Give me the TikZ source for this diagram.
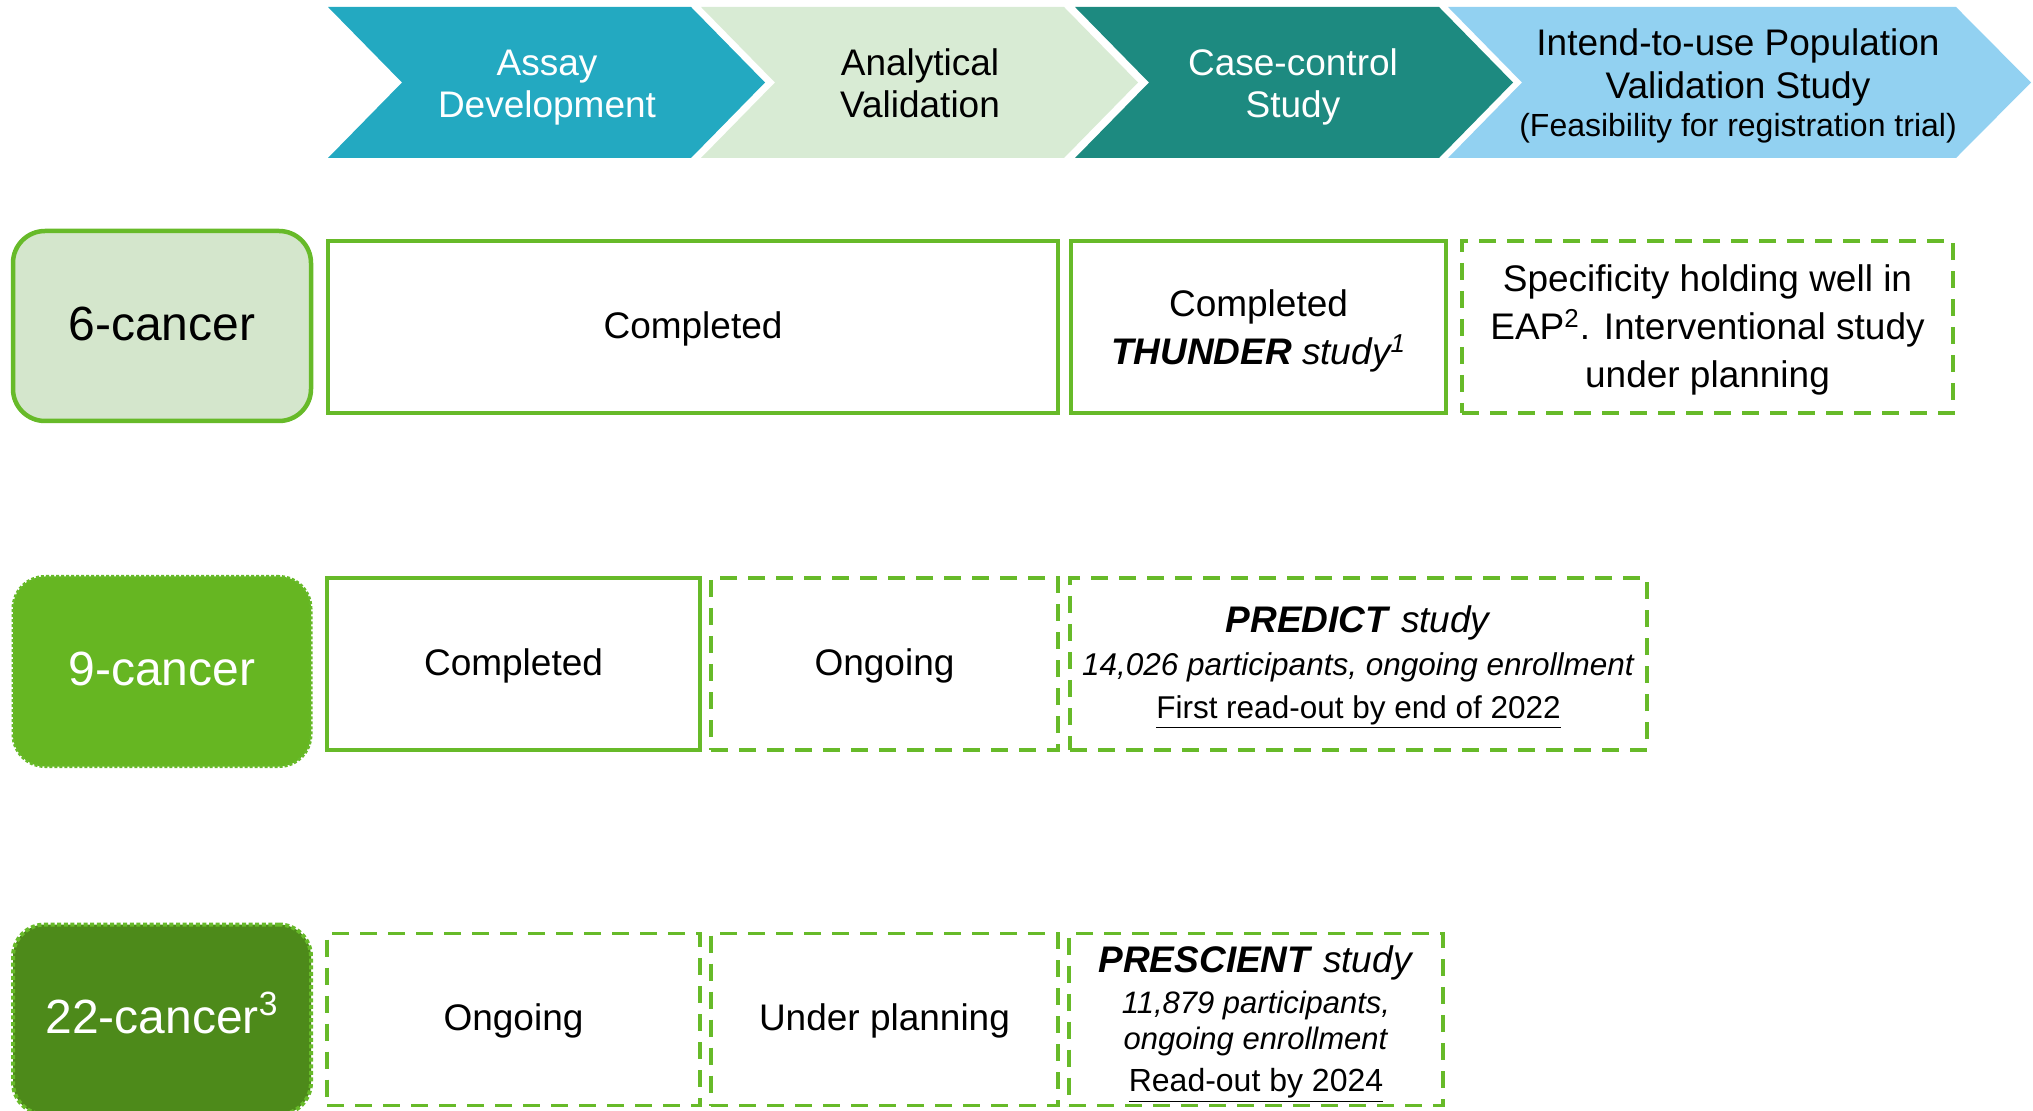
\documentclass[tikz,border=0pt]{standalone}
\usepackage{fontspec}
\setmainfont{Liberation Sans}

\definecolor{assayblue}{HTML}{23A9C1}
\definecolor{valgreen}{HTML}{D8EBD4}
\definecolor{caseteal}{HTML}{1D8A80}
\definecolor{popblue}{HTML}{92D1F1}
\definecolor{cellgreen}{HTML}{67BA29}
\definecolor{sixfill}{HTML}{D4E6CC}
\definecolor{ninefill}{HTML}{66B622}
\definecolor{twentytwofill}{HTML}{4D8A1A}

\begin{document}
\begin{tikzpicture}[
    x=0.5pt, y=-0.5pt,
    stage/.style={anchor=base, align=center, inner sep=0pt, font=\fontsize{18.5}{21}\selectfont},
    cell/.style={draw=cellgreen, line width=1.75pt, inner sep=0pt, minimum height=86pt,
        align=center, font=\fontsize{18.5}{23}\selectfont},
    oneline/.style={text height=14.8pt, text depth=3.7pt},
    planned/.style={cell, dash pattern=on 8.5pt off 5.5pt},
    panel/.style={rounded corners=16pt, inner sep=0pt, minimum width=149pt, minimum height=95pt,
        text height=19.2pt, text depth=4.8pt, font=\fontsize{24}{28}\selectfont}
]
\useasboundingbox (0,0) rectangle (2033,1111);

% stage chevrons
\fill[assayblue] (328,7) -- (691,7) -- (765,82.5) -- (691,158) -- (328,158) -- (402,82.5) -- cycle;
\fill[valgreen] (701,7) -- (1064,7) -- (1138,82.5) -- (1064,158) -- (701,158) -- (775,82.5) -- cycle;
\fill[caseteal] (1075,7) -- (1439,7) -- (1513,82.5) -- (1439,158) -- (1075,158) -- (1149,82.5) -- cycle;
\fill[popblue] (1448,7) -- (1956,7) -- (2031,82.5) -- (1956,158) -- (1448,158) -- (1522,82.5) -- cycle;

% (anchor=base sits on the last line)
\node[stage, text=white] (assay) at (547,117.5) {Assay\\Development};
\node[stage] (analytical) at (920,117.5) {Analytical\\Validation};
\node[stage, text=white] (casecontrol) at (1293,117.5) {Case-control\\Study};
\node[stage, font=\fontsize{18.5}{21.6}\selectfont] (population) at (1738,137)
    {Intend-to-use Population\\Validation Study\\[-2.6pt]{\fontsize{16}{19}\selectfont (Feasibility for registration trial)}};

% panels on the left
\node[panel, fill=sixfill, draw=cellgreen, line width=2.25pt] (six) at (162,326) {6-cancer};
\node[panel, fill=ninefill, draw=cellgreen, line width=1.5pt, dash pattern=on 1.5pt off 1pt,
    text=white] (nine) at (162,671.5) {9-cancer};
\node[panel, fill=twentytwofill, draw=cellgreen, line width=2pt, dash pattern=on 2pt off 1.3pt,
    text=white] (twentytwo) at (162,1019.5) {22-cancer\textsuperscript{3}};

% 6-cancer row
\node[cell, oneline, minimum width=365pt] (sixdev) at (693,327) {Completed};
\node[cell, text height=38pt, text depth=0pt, minimum width=187.5pt,
    font=\fontsize{18.5}{24}\selectfont] (sixcase) at (1258.5,327)
    {Completed\\\textbf{\textit{THUNDER}} \textit{study\textsuperscript{1}}};
\node[planned, text height=61pt, text depth=0pt, minimum width=245.5pt,
    font=\fontsize{18.5}{24}\selectfont] (sixpop) at (1707.5,327)
    {Specificity holding well in\\EAP\textsuperscript{2}. Interventional study\\under planning};

% 9-cancer row
\node[cell, oneline, minimum width=186.5pt] (ninedev) at (513.5,664) {Completed};
\node[planned, oneline, minimum width=173.5pt] (nineval) at (884.5,664) {Ongoing};
\node[planned, text height=54pt, text depth=0pt, minimum width=288.5pt,
    font=\fontsize{15.75}{21.1}\selectfont] (ninecase) at (1358.5,664)
    {{\fontsize{18.5}{21.1}\selectfont\textbf{\textit{PREDICT}} \textit{study}}\\[0.75pt]
     \textit{14,026 participants, ongoing enrollment}\\
     \underline{First read-out by end of 2022}};

% 22-cancer row
\node[planned, oneline, minimum width=186.5pt] (twentytwodev) at (513.5,1019.5) {Ongoing};
\node[planned, oneline, minimum width=173.5pt] (twentytwoval) at (884.5,1019.5) {Under planning};
\node[planned, text height=72pt, text depth=0pt, minimum width=187pt,
    font=\fontsize{15.5}{17.85}\selectfont] (twentytwocase) at (1256,1019.5)
    {{\fontsize{18.5}{21.5}\selectfont\textbf{\textit{PRESCIENT}} \textit{study}}\\[2.85pt]
     \textit{11,879 participants,}\\
     \textit{ongoing enrollment}\\[3.3pt]
     {\fontsize{16}{19}\selectfont\underline{Read-out by 2024}}};
\end{tikzpicture}
\end{document}
